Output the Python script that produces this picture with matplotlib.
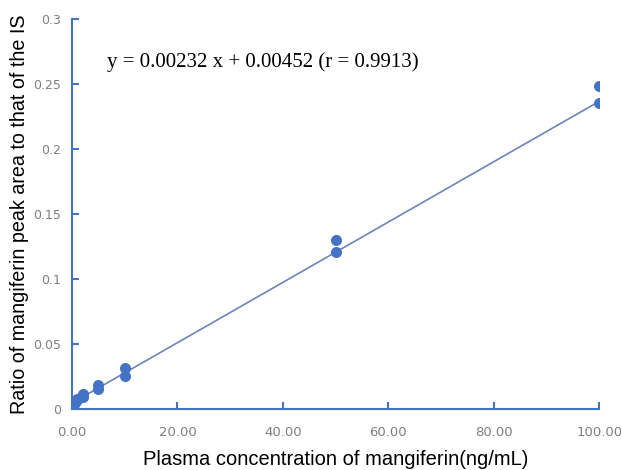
import matplotlib
matplotlib.use("Agg")
import matplotlib.pyplot as plt
import numpy as np

# calibration data
conc = [0.5, 0.5, 1, 1, 2, 2, 5, 5, 10, 10, 50, 50, 100, 100]
ratio = [0.0045, 0.0060, 0.0065, 0.0075, 0.0095, 0.0112, 0.0155, 0.0185,
         0.0255, 0.0315, 0.1205, 0.1300, 0.2355, 0.2480]
slope = 0.00232
intercept = 0.00452
xticks = [0, 20, 40, 60, 80, 100]
yticks = [0, 0.05, 0.1, 0.15, 0.2, 0.25, 0.3]

blue = "#4472C4"

fig = plt.figure(figsize=(6.21, 4.70), dpi=100)
ax = fig.add_axes([0.116, 0.13, 0.849, 0.83])

xfit = np.array([0.5, 100])
ax.plot(xfit, slope * xfit + intercept, color="#6a86b8", lw=1.2, zorder=2)
ax.scatter(conc, ratio, s=48, color=blue, zorder=3)

ax.set_xlim(0, 100)
ax.set_ylim(0, 0.3)
ax.set_xticks(xticks)
ax.set_xticklabels(["%.2f" % v for v in xticks])
ax.set_yticks(yticks)
ax.set_yticklabels(["0", "0.05", "0.1", "0.15", "0.2", "0.25", "0.3"])

for s in ["top", "right"]:
    ax.spines[s].set_visible(False)
for s in ["left", "bottom"]:
    ax.spines[s].set_color(blue)
    ax.spines[s].set_linewidth(1.5)
ax.tick_params(direction="in", color=blue, width=1.5, length=5,
               labelcolor="#7f7f7f", labelsize=9)
ax.tick_params(axis="x", labelsize=9.5, pad=12)
ax.tick_params(axis="y", pad=8)

ax.set_xlabel("Plasma concentration of mangiferin(ng/mL)", family="Liberation Sans",
              fontsize=14.5)
ax.set_ylabel("Ratio of mangiferin peak area to that of the IS", family="Liberation Sans",
              fontsize=14.2)
ax.xaxis.set_label_coords(0.5, -0.105)
ax.yaxis.set_label_coords(-0.082, 0.5)

ax.text(6.6, 0.267, "y = 0.00232 x + 0.00452 (r = 0.9913)", family="Liberation Serif",
        fontsize=15, va="center")

fig.savefig("out.png", dpi=100)
